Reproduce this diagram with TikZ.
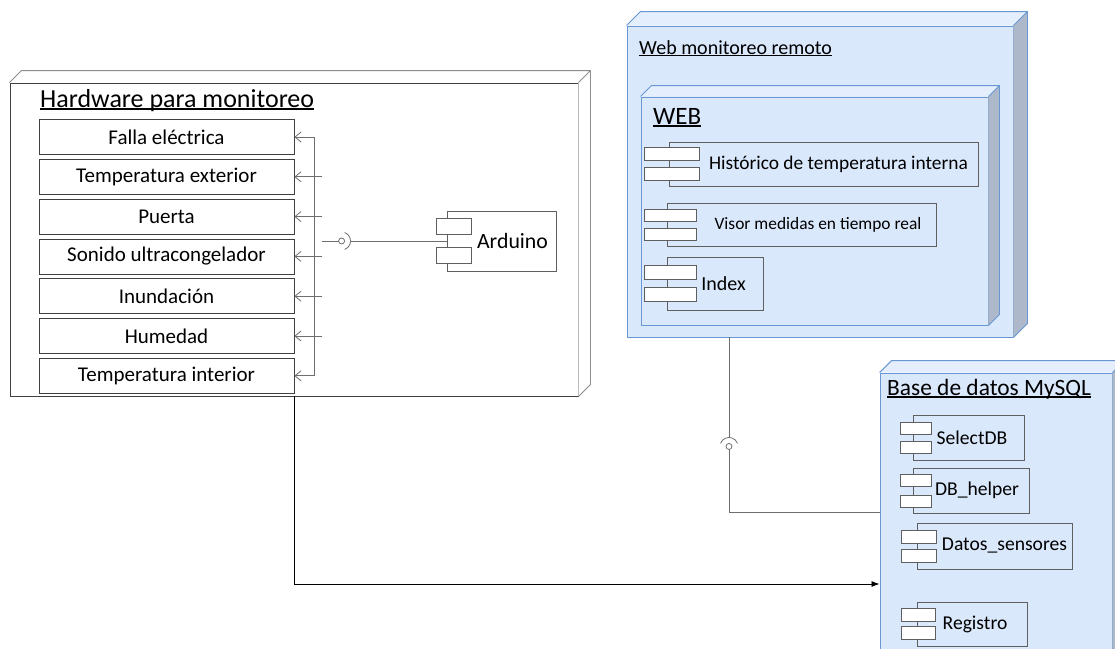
\documentclass[tikz,border=0pt]{standalone}
\usepackage{fontspec}
\setmainfont{Carlito}
\usetikzlibrary{arrows.meta, positioning, calc}

\definecolor{bline}{RGB}{104,151,211}
\definecolor{bfill}{RGB}{218,232,252}
\definecolor{btop}{RGB}{228,238,252}
\definecolor{bside}{RGB}{173,185,202}
\definecolor{hwgray}{RGB}{64,64,64}
\definecolor{cgray}{RGB}{95,95,95}
\definecolor{wgray}{RGB}{110,110,110}

\newcommand{\ultext}[1]{\leavevmode\setbox0=\hbox{#1}\rlap{\rule[-0.11em]{\wd0}{0.055em}}\box0}
\newcommand{\fs}[1]{\fontsize{#1}{#1}\selectfont}

% node, depth, top fill, side fill, line colour
\newcommand{\boxdepth}[5]{%
  \fill[#3] (#1.north west) -- ++(#2,#2) -- ($(#1.north east)+(#2,#2)$) -- (#1.north east) -- cycle;
  \fill[#4] (#1.north east) -- ++(#2,#2) -- ($(#1.south east)+(#2,#2)$) -- (#1.south east) -- cycle;
  \draw[#5, line width=0.9pt] (#1.north west) -- ++(#2,#2) -- ($(#1.north east)+(#2,#2)$) -- ($(#1.south east)+(#2,#2)$) -- (#1.south east)
    (#1.north east) -- ++(#2,#2);
}
% node, x shift, width, height, gap
\newcommand{\comptabs}[5]{%
  \draw[tab] ($(#1.west)+(#2pt,#5pt/2)$) rectangle ++(#3pt,#4pt);
  \draw[tab] ($(#1.west)+(#2pt,-#5pt/2)$) rectangle ++(#3pt,-#4pt);
}

\begin{document}
\begin{tikzpicture}[x=1pt, y=-1pt,
  every node/.style={font=\fs{19.6}, inner sep=0pt},
  bluebox/.style={draw=bline, fill=bfill, line width=0.9pt},
  sensor/.style={draw=hwgray, line width=0.8pt, minimum width=255pt, minimum height=35pt, font=\fs{21}},
  comp/.style={draw=cgray, line width=0.8pt},
  tab/.style={draw=cgray, line width=0.8pt, fill=white},
  wire/.style={draw=wgray, line width=0.8pt},
  barb/.style={-{Straight Barb[length=6pt, width=10pt]}}]

\useasboundingbox (0,0) rectangle (1115,648);

\node[draw=hwgray, fill=white, line width=0.9pt, minimum width=568pt, minimum height=313pt] (hw) at (294,239.5) {};
\boxdepth{hw}{12pt}{white}{white}{hwgray!60}
\node[anchor=base west, font=\fs{26}] (hwtitle) at (40,107) {\ultext{Hardware para monitoreo}};

\node[sensor] (s1) at (166.5,137) {Falla eléctrica};
\node[sensor, below=4pt of s1] (s2) {Temperatura exterior};
\node[sensor, below=4pt of s2] (s3) {Puerta};
\node[sensor, below=4pt of s3] (s4) {Sonido ultracongelador};
\node[sensor, below=4pt of s4] (s5) {Inundación};
\node[sensor, below=4pt of s5] (s6) {Humedad};
\node[sensor, below=4pt of s6] (s7) {Temperatura interior};

\draw[wire] ([xshift=20pt]s1.east) -- ([xshift=20pt]s7.east);
\draw[wire, barb] ([xshift=20pt]s1.east) -- (s1.east);
\draw[wire, barb] ([xshift=20pt]s7.east) -- (s7.east);
\foreach \s in {2,...,6}
  \draw[wire, barb] ([xshift=28pt]s\s.east) -- (s\s.east);

\node[comp, fill=white, minimum width=109pt, minimum height=60pt, font=\fs{21.8}] (ard) at (501.5,241) {\hspace*{22pt}Arduino};
\comptabs{ard}{-10}{35}{16}{13}

\coordinate (hball) at ($(ard.west)+(-105pt,0pt)$);
\draw[wire] ([xshift=9pt]hball) -- (ard.west);
\draw[wire] ([shift={(70:9pt)}]hball) arc[start angle=70, end angle=-70, radius=9pt];
\draw[wire] (hball) circle[radius=3pt];
\draw[wire] ([xshift=-3pt]hball) -- ++(-17pt,0pt);

\node[bluebox, minimum width=386pt, minimum height=311pt] (web) at (820,181.5) {};
\boxdepth{web}{14pt}{btop}{bside}{bline}
\node[anchor=base west, font=\fs{20}] (webtitle) at (639,54) {\ultext{Web monitoreo remoto}};

\node[bluebox, minimum width=347pt, minimum height=228pt] (webin) at (814.5,211) {};
\boxdepth{webin}{11pt}{btop}{bside}{bline}
\node[anchor=base west, font=\fs{25}] (webtag) at (653,124) {\ultext{WEB}};

\node[comp, minimum width=309pt, minimum height=44pt, font=\fs{19.4}] (hist) at (823.5,164) {\hspace*{30pt}Histórico de temperatura interna};
\comptabs{hist}{-24}{55}{13}{7}
\node[comp, minimum width=269pt, minimum height=43pt, font=\fs{17.4}] (visor) at (801.5,224.5) {\hspace*{33pt}Visor medidas en tiempo real};
\comptabs{visor}{-22}{52}{12}{7}
\node[comp, minimum width=96pt, minimum height=53pt, font=\fs{20}] (index) at (715,283.5) {\hspace*{17pt}Index};
\comptabs{index}{-22}{52}{14}{8}

\node[bluebox, minimum width=232pt, minimum height=422pt] (db) at (996,584) {};
\boxdepth{db}{12pt}{btop}{bside}{bline}
\node[anchor=base west, font=\fs{23.4}] (dbtitle) at (887,395) {\ultext{Base de datos MySQL}};

\node[comp, minimum width=111pt, minimum height=45pt] (sel) at (968.5,437.5) {\hspace*{7pt}SelectDB};
\comptabs{sel}{-12}{31}{12}{7}
\node[comp, minimum width=116pt, minimum height=45pt] (help) at (971,490.5) {\hspace*{12pt}DB\_helper};
\comptabs{help}{-12}{31}{12}{9}
\node[comp, minimum width=155pt, minimum height=46pt] (datos) at (994.5,546) {\hspace*{20pt}Datos\_sensores};
\comptabs{datos}{-15}{35}{13}{6}
\node[comp, minimum width=110pt, minimum height=44pt] (reg) at (972,624) {\hspace*{6pt}Registro};
\comptabs{reg}{-15}{34}{13}{5}

\coordinate (wball) at ($(web.south)+(-91pt,-109pt)$);
\draw[wire] (web.south -| wball) -- ([yshift=9pt]wball);
\draw[wire] ([shift={(160:9pt)}]wball) arc[start angle=160, end angle=20, radius=9pt];
\draw[wire] (wball) circle[radius=3pt];
\draw[wire] ([yshift=-3pt]wball) |- ([yshift=72pt]db.west);

\draw[line width=0.8pt, -{Latex[length=8pt, width=6pt]}] (hw.south) |- (db.west);
\end{tikzpicture}
\end{document}
